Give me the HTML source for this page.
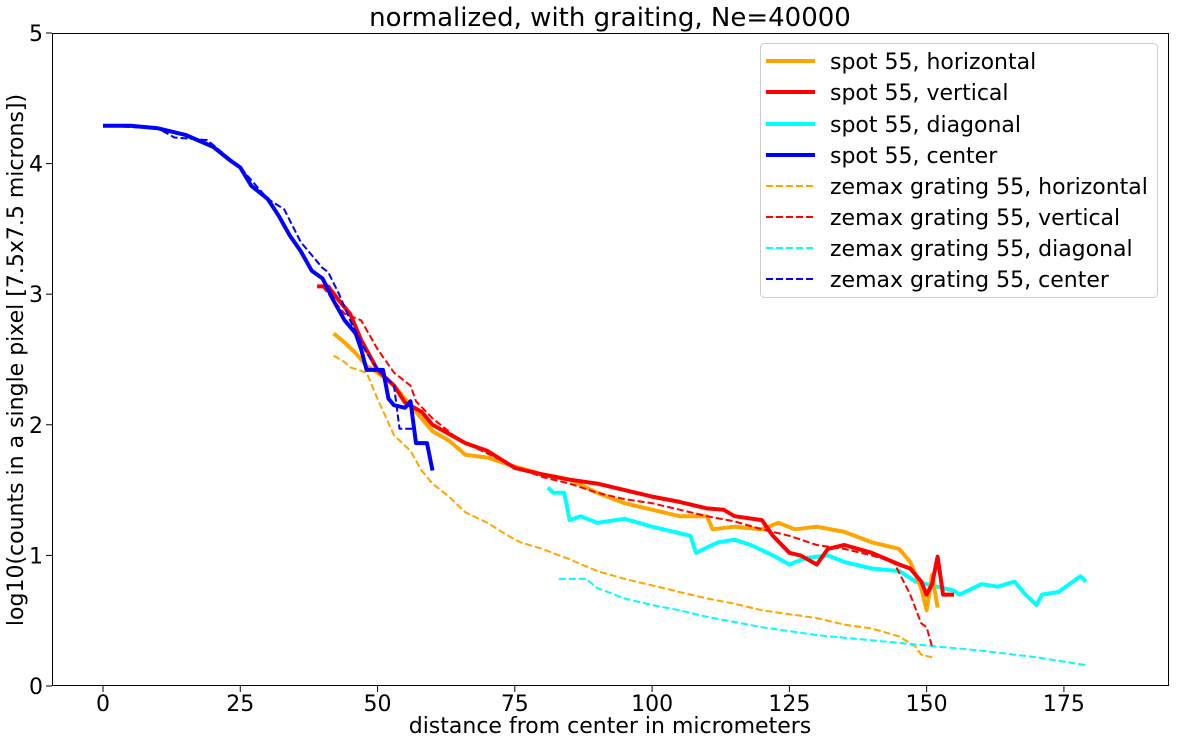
<!DOCTYPE html>
<html><head><meta charset="utf-8"><style>
body{margin:0;background:#fff;}
svg text{font-family:"DejaVu Sans","Liberation Sans",sans-serif;fill:#000;}
</style></head><body>
<svg id="s" width="1179" height="743" xmlns="http://www.w3.org/2000/svg">
<rect width="1179" height="743" fill="#fff"/>
<text x="610" y="26" font-size="26" text-anchor="middle">normalized, with graiting, Ne=40000</text>
<g id="plot"></g>
<rect x="52.5" y="33.5" width="1116" height="652" fill="none" stroke="#000" stroke-width="1"/>
<g id="ticks" font-size="22"></g>
<text x="610" y="733" font-size="22" text-anchor="middle">distance from center in micrometers</text>
<text transform="translate(23,360) rotate(-90)" font-size="22" text-anchor="middle">log10(counts in a single pixel [7.5x7.5 microns])</text>
<g>
<rect x="760.5" y="43.5" width="397" height="254" rx="4" fill="#fff" fill-opacity="0.8" stroke="#ccc"/>
<g font-size="22">
<line x1="766" x2="815" y1="61" y2="61" stroke="orange" stroke-width="4"/><text x="830" y="69">spot 55, horizontal</text>
<line x1="766" x2="815" y1="92" y2="92" stroke="red" stroke-width="4"/><text x="830" y="100">spot 55, vertical</text>
<line x1="766" x2="815" y1="124" y2="124" stroke="cyan" stroke-width="4"/><text x="830" y="132">spot 55, diagonal</text>
<line x1="766" x2="815" y1="155" y2="155" stroke="blue" stroke-width="4"/><text x="830" y="163">spot 55, center</text>
<line x1="766" x2="815" y1="186" y2="186" stroke="orange" stroke-width="2" stroke-dasharray="7,3"/><text x="830" y="194">zemax grating 55, horizontal</text>
<line x1="766" x2="815" y1="217" y2="217" stroke="red" stroke-width="2" stroke-dasharray="7,3"/><text x="830" y="225">zemax grating 55, vertical</text>
<line x1="766" x2="815" y1="248" y2="248" stroke="cyan" stroke-width="2" stroke-dasharray="7,3"/><text x="830" y="256">zemax grating 55, diagonal</text>
<line x1="766" x2="815" y1="279" y2="279" stroke="blue" stroke-width="2" stroke-dasharray="7,3"/><text x="830" y="287">zemax grating 55, center</text>
</g></g>
</svg>
<script>
var X=function(v){return 103+v*5.491},Y=function(v){return 686-v*130.6};
var series=[
["orange",2,1,[[42,2.53],[44,2.48],[45,2.44],[48,2.40],[50,2.20],[53,1.92],[56,1.80],[58,1.65],[60,1.55],[63,1.45],[66,1.33],[70,1.25],[73,1.17],[76,1.10],[80,1.05],[85,0.97],[90,0.88],[95,0.82],[100,0.77],[105,0.72],[110,0.67],[115,0.63],[120,0.58],[125,0.55],[130,0.52],[135,0.47],[140,0.44],[145,0.38],[148,0.30],[149,0.24],[151,0.22]]],
["cyan",2,1,[[83,0.82],[88,0.82],[90,0.75],[95,0.67],[100,0.62],[105,0.58],[110,0.53],[115,0.49],[120,0.45],[125,0.42],[130,0.39],[135,0.37],[140,0.35],[145,0.33],[150,0.31],[160,0.27],[170,0.22],[179,0.16]]],
["cyan",4,0,[[81,1.52],[82,1.48],[84,1.48],[85,1.27],[87,1.30],[90,1.25],[95,1.28],[100,1.22],[105,1.17],[107,1.15],[108,1.02],[112,1.10],[115,1.12],[118,1.08],[122,1.00],[125,0.93],[128,0.98],[132,1.00],[135,0.95],[140,0.90],[145,0.88],[148,0.80],[150,0.78],[155,0.73],[156,0.70],[160,0.78],[163,0.76],[166,0.80],[168,0.70],[170,0.62],[171,0.70],[174,0.72],[176,0.78],[178,0.84],[179,0.80]]],
["orange",4,0,[[42,2.70],[44,2.63],[46,2.55],[48,2.45],[50,2.40],[53,2.30],[55,2.20],[58,2.05],[60,1.95],[63,1.88],[66,1.77],[70,1.75],[75,1.68],[80,1.62],[85,1.58],[90,1.48],[95,1.40],[100,1.35],[105,1.30],[110,1.30],[111,1.20],[115,1.22],[120,1.20],[123,1.25],[126,1.20],[130,1.22],[135,1.18],[140,1.10],[145,1.05],[147,0.95],[149,0.75],[150,0.58],[151,0.85],[152,0.60]]],
["red",4,0,[[39,3.06],[41,3.06],[43,2.95],[45,2.85],[47,2.65],[50,2.42],[53,2.30],[55,2.17],[58,2.10],[60,2.00],[63,1.93],[66,1.86],[70,1.80],[75,1.67],[80,1.62],[85,1.58],[90,1.55],[95,1.50],[100,1.45],[105,1.41],[110,1.36],[113,1.35],[115,1.30],[120,1.27],[122,1.15],[125,1.02],[127,1.00],[130,0.93],[132,1.05],[135,1.08],[140,1.02],[145,0.93],[147,0.90],[149,0.80],[150,0.70],[151,0.78],[152,0.99],[153,0.70],[155,0.70]]],
["red",2,1,[[40,3.06],[42,2.95],[44,2.85],[47,2.80],[50,2.58],[53,2.40],[56,2.30],[57,2.18],[60,2.05],[65,1.88],[70,1.78],[75,1.68],[80,1.60],[85,1.55],[90,1.48],[95,1.43],[100,1.40],[105,1.35],[110,1.30],[115,1.26],[120,1.20],[125,1.15],[130,1.08],[135,1.05],[140,1.00],[144,0.95],[147,0.70],[149,0.48],[150,0.45],[151,0.30]]],
["blue",4,0,[[0,4.29],[5,4.29],[10,4.27],[15,4.22],[20,4.13],[23,4.03],[25,3.97],[27,3.83],[30,3.73],[32,3.60],[34,3.45],[36,3.33],[38,3.18],[40,3.12],[42,2.95],[44,2.80],[46,2.70],[47,2.58],[48,2.42],[51,2.42],[52,2.20],[53,2.15],[55,2.13],[56,2.18],[57,1.86],[59,1.86],[60,1.65]]],
["blue",2,1,[[0,4.29],[10,4.27],[13,4.20],[19,4.18],[25,3.97],[30,3.73],[33,3.65],[36,3.40],[40,3.20],[41,3.17],[43,3.00],[45,2.80],[48,2.55],[50,2.43],[53,2.30],[54,1.97],[57,1.97]]]
];
var g=document.getElementById("plot"),h="";
series.forEach(function(s){var p=s[3].map(function(q){return X(q[0]).toFixed(1)+","+Y(q[1]).toFixed(1)}).join(" ");
h+='<polyline fill="none" stroke="'+s[0]+'" stroke-width="'+s[1]+'" stroke-linejoin="round" '+(s[2]?'stroke-dasharray="7,3" ':'')+'points="'+p+'"/>';});
g.innerHTML=h;
var t="";
[0,25,50,75,100,125,150,175].forEach(function(v){var x=X(v);t+='<line x1="'+x+'" x2="'+x+'" y1="686" y2="692" stroke="#000"/><text x="'+x+'" y="711" text-anchor="middle">'+v+'</text>';});
[0,1,2,3,4,5].forEach(function(v){var y=Y(v);t+='<line x1="46" x2="52" y1="'+y+'" y2="'+y+'" stroke="#000"/><text x="43" y="'+(y+8)+'" text-anchor="end">'+v+'</text>';});
document.getElementById("ticks").innerHTML=t;
</script>
</body></html>
